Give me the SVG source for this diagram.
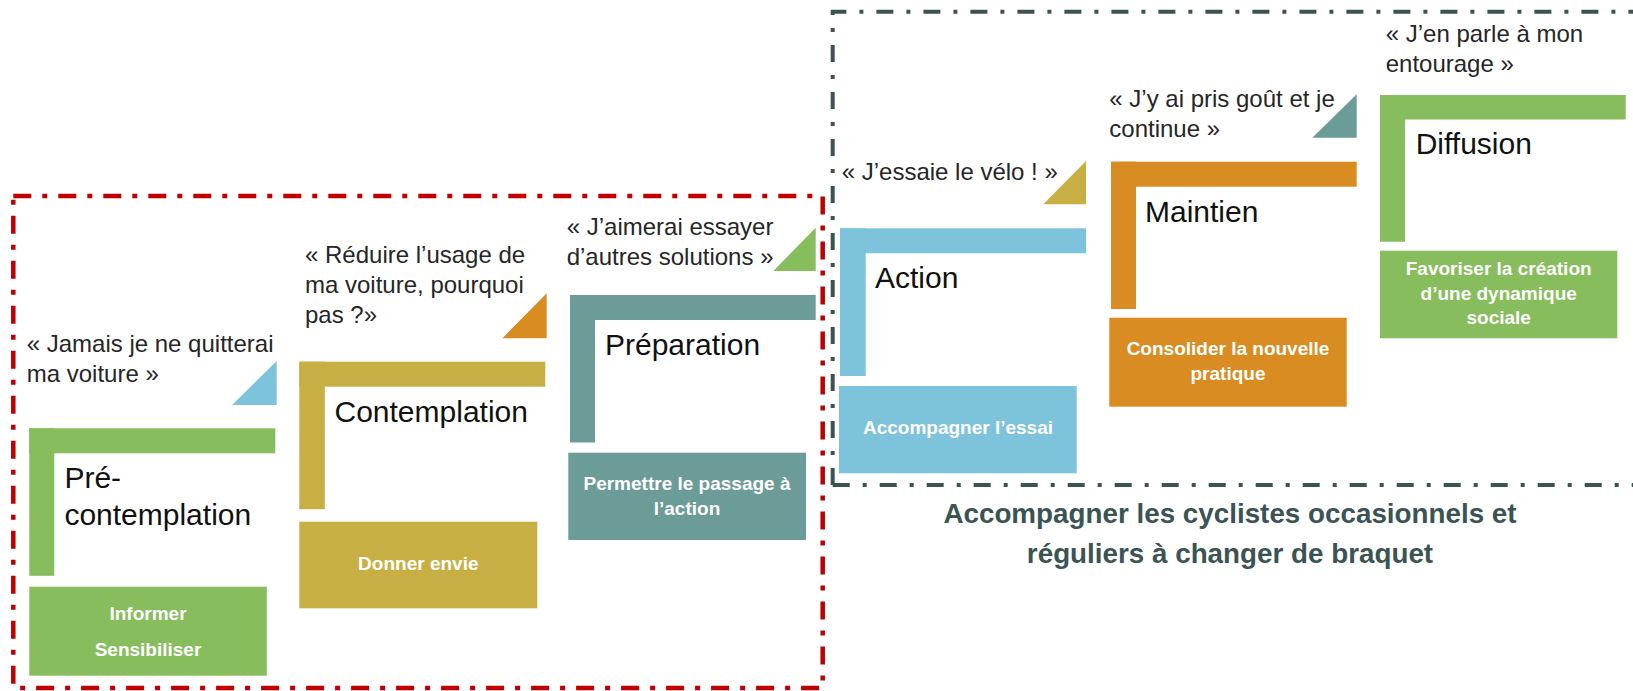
<svg xmlns="http://www.w3.org/2000/svg" width="1633" height="691" viewBox="0 0 1633 691">
<style>
.q{font-family:"Liberation Sans",Arial,sans-serif;font-size:24px;fill:#262626}
.t{font-family:"Liberation Sans",Arial,sans-serif;font-size:30px;fill:#111}
.b{font-family:"Liberation Sans",Arial,sans-serif;font-size:19px;font-weight:bold;fill:#fff;text-anchor:middle}
.ttl{font-family:"Liberation Sans",Arial,sans-serif;font-size:27.8px;font-weight:bold;fill:#3b5453;text-anchor:middle}
.g{fill:#87bd5c}.o{fill:#c8af44}.tl{fill:#6c9c97}.bl{fill:#7dc3db}.or{fill:#d88c22}
.red{fill:none;stroke:#c00000;stroke-width:4.5;stroke-dasharray:18 11 5 11}
.dk{fill:none;stroke:#3b5453;stroke-width:4;stroke-dasharray:17 13 4 13}
</style>
<g id="frames">
<rect class="red" x="13.3" y="196" width="809.4" height="492"/>
<path class="dk" d="M832.7 485 V11.7 H1640"/>
<path class="dk" d="M832.7 485 H1640"/>
</g>
<g id="connectors"></g>
<g id="stage-precontemplation">
<text class="q" x="26.7" y="351.7">« Jamais je ne quitterai</text>
<text class="q" x="26.7" y="381.7">ma voiture »</text>
<polygon class="bl" points="232,405 276.7,405 276.7,361"/>
<rect class="g" x="29.3" y="428.3" width="246" height="25"/>
<rect class="g" x="29.3" y="428.3" width="25" height="147.5"/>
<text class="t" x="64.4" y="488.3">Pré-</text>
<text class="t" x="64.4" y="524.5">contemplation</text>
<rect class="g" x="29.3" y="586.7" width="237.5" height="89"/>
<text class="b" x="148" y="620">Informer</text>
<text class="b" x="148" y="656">Sensibiliser</text>
</g>
<g id="stage-contemplation">
<text class="q" x="305" y="263.3">« Réduire l’usage de</text>
<text class="q" x="305" y="293.3">ma voiture, pourquoi</text>
<text class="q" x="305" y="323.3">pas ?»</text>
<polygon class="or" points="502.3,338.3 546.7,338.3 546.7,293.3"/>
<rect class="o" x="299.3" y="361.7" width="246" height="25"/>
<rect class="o" x="299.3" y="361.7" width="25.5" height="147.5"/>
<text class="t" x="334.5" y="421.7">Contemplation</text>
<rect class="o" x="299.3" y="521.7" width="238" height="86.6"/>
<text class="b" x="418.3" y="570">Donner envie</text>
</g>
<g id="stage-preparation">
<text class="q" x="566.7" y="235">« J’aimerai essayer</text>
<text class="q" x="566.7" y="265">d’autres solutions »</text>
<polygon class="g" points="773.3,271 815.7,271 815.7,227.7"/>
<rect class="tl" x="570" y="295" width="245.7" height="25"/>
<rect class="tl" x="570" y="295" width="25" height="147.5"/>
<text class="t" x="605" y="355">Préparation</text>
<rect class="tl" x="568.3" y="452.7" width="237.7" height="87.3"/>
<text class="b" x="687" y="490">Permettre le passage à</text>
<text class="b" x="687" y="515">l’action</text>
</g>
<g id="stage-action">
<text class="q" x="841.7" y="180">« J’essaie le vélo ! »</text>
<polygon class="o" points="1043.3,204.3 1086,204.3 1086,161"/>
<rect class="bl" x="840" y="228.3" width="246" height="25"/>
<rect class="bl" x="840" y="228.3" width="25.7" height="147.7"/>
<text class="t" x="875" y="288.3">Action</text>
<rect class="bl" x="839" y="386" width="237.7" height="87.3"/>
<text class="b" x="958" y="434">Accompagner l’essai</text>
</g>
<g id="stage-maintien">
<text class="q" x="1109.3" y="106.7">« J’y ai pris goût et je</text>
<text class="q" x="1109.3" y="136.7">continue »</text>
<polygon class="tl" points="1312.3,137.7 1356.7,137.7 1356.7,94.3"/>
<rect class="or" x="1111" y="161.7" width="245.7" height="25"/>
<rect class="or" x="1111" y="161.7" width="25" height="147.3"/>
<text class="t" x="1145" y="221.7">Maintien</text>
<rect class="or" x="1109.3" y="317.7" width="237.4" height="89"/>
<text class="b" x="1228" y="355">Consolider la nouvelle</text>
<text class="b" x="1228" y="380">pratique</text>
</g>
<g id="stage-diffusion">
<text class="q" x="1385.7" y="41.7">« J’en parle à mon</text>
<text class="q" x="1385.7" y="71.7">entourage »</text>
<rect class="g" x="1380" y="95" width="245.7" height="24.5"/>
<rect class="g" x="1380" y="95" width="25" height="146.7"/>
<text class="t" x="1415.7" y="154">Diffusion</text>
<rect class="g" x="1380" y="250.7" width="237.3" height="87.6"/>
<text class="b" x="1498.7" y="275">Favoriser la création</text>
<text class="b" x="1498.7" y="300">d’une dynamique</text>
<text class="b" x="1498.7" y="324">sociale</text>
</g>
<g id="title">
<text class="ttl" x="1230" y="523">Accompagner les cyclistes occasionnels et</text>
<text class="ttl" x="1230" y="563">réguliers à changer de braquet</text>
</g>
</svg>
